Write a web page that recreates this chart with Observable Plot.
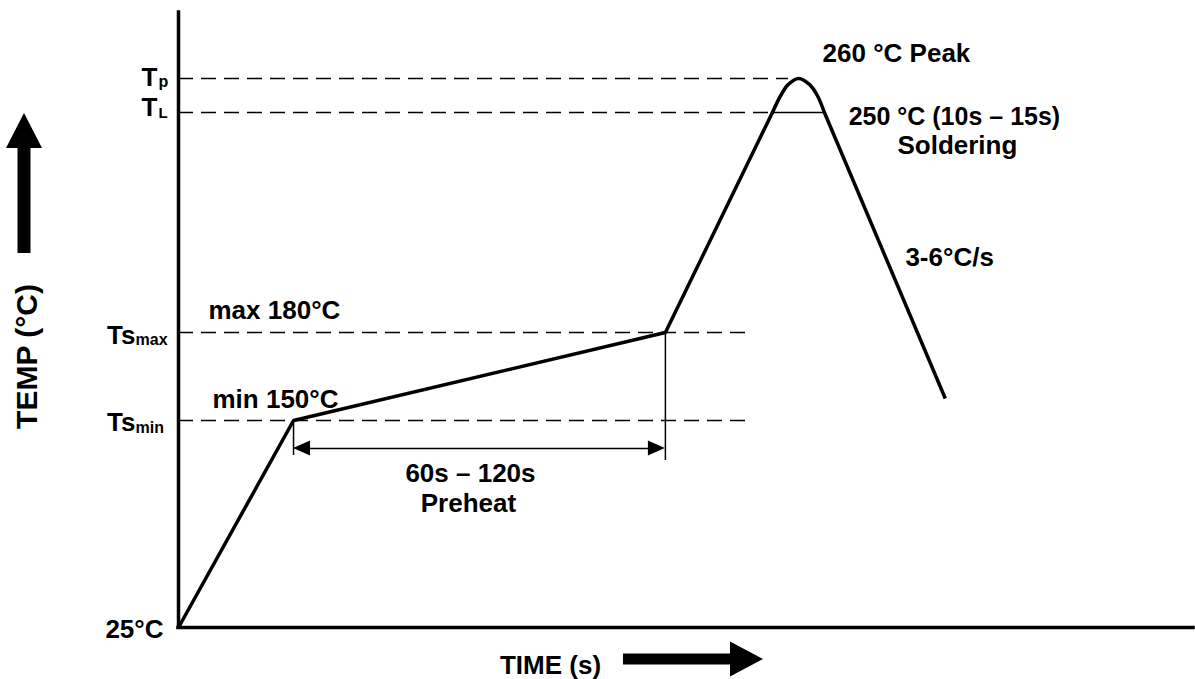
<!DOCTYPE html>
<html>
<head>
<meta charset="utf-8">
<script src="https://cdn.jsdelivr.net/npm/d3@7"></script>
<script src="https://cdn.jsdelivr.net/npm/@observablehq/plot@0.6"></script>
<style>
  html, body { margin: 0; padding: 0; background: #fff; }
  #chart svg { display: block; }
</style>
</head>
<body>
<div id="chart"></div>
<script>
// ---- Data (time in s, temperature in °C) ----
// Straight ramp segments: start -> Ts_min -> Ts_max -> T_L (rising)
const rampTime = [0, 37.4, 158.3, 193.1];
const rampTemp = [25, 150, 180, 250];
// Rounded peak above T_L
const peakTime = [193.1, 195.8, 198.2, 201.6, 205.2, 207.7, 210.0];
const peakTemp = [250, 255.0, 258.2, 260, 258.2, 255.0, 250];
// Cooling segment
const coolTime = [210.0, 249.3];
const coolTemp = [250, 157.5];

// Reference levels (dashed) and where each dashed line ends
const levelTemp = [150, 180, 250, 260];
const levelEndTime = [185, 185, 193.1, 198.3];

// Y tick labels (main text + subscript)
const tickTemp = [260, 250, 180, 150, 25];
const tickMain = ["T", "T", "Ts", "Ts", "25°C"];
const tickSub = ["p", "L", "max", "min", ""];

// Preheat window
const preheatTime = [37.4, 158.3];
const preheatTopTemp = [150, 180];
const preheatTickBottom = [128.9, 125.8];
const preheatArrowTemp = 133.1;

// Soldering window at T_L
const solderTime = [193.1, 210.0];
const solderTemp = 250;

// Annotation texts
const peakLabel = "260 °C Peak";
const solderLabel = ["250 °C (10s – 15s)", "Soldering"];
const coolLabel = "3-6°C/s";
const maxLabel = "max 180°C";
const minLabel = "min 150°C";
const preheatLabel = ["60s – 120s", "Preheat"];
const yTitle = "TEMP (°C)";
const xTitle = "TIME (s)";

// The temperature axis of the figure is schematic (not to scale):
// each key temperature sits at its own height on the drawing.
const keyTemp = [25, 150, 180, 250, 260];
const keyHeight = [0, 207, 295, 515, 549];   // schematic height units
const heightTop = 615;
const xDomain = [0, 330];

// ---- build ----
const warp = d3.scaleLinear().domain(keyTemp).range(keyHeight); // piecewise, extrapolates linearly
const H = (T) => warp(T);
const pts = (xs, ys) => xs.map((t, i) => ({t, T: ys[i]}));
const ramp = pts(rampTime, rampTemp);
const peak = pts(peakTime, peakTemp);
const cool = pts(coolTime, coolTemp);
const levels = levelTemp.map((T, i) => ({T, end: levelEndTime[i]}));
const Yt = (d) => H(d.T);

const FONT = "'Liberation Sans', Arial, Helvetica, sans-serif";
const BIG = 26;
const txt = (data, opts) => Plot.text(data, {fontSize: BIG, fontWeight: "bold", fill: "black", lineAnchor: "bottom", ...opts});

// per-label offsets (style only)
const tickStyle = [
  {mainDx: -21, mainDy: 7, subDx: -20, subDy: 8, subSize: 16},
  {mainDx: -21, mainDy: 3, subDx: -20, subDy: 5, subSize: 15},
  {mainDx: -43, mainDy: 11, subDx: -43, subDy: 12, subSize: 16},
  {mainDx: -43, mainDy: 10, subDx: -43, subDy: 12, subSize: 16},
  {mainDx: -15, mainDy: 10}
];
const tickMarks = tickTemp.flatMap((T, i) => {
  const s = tickStyle[i];
  const m = [txt([{t: 0, T, s: tickMain[i]}], {x: "t", y: Yt, text: "s", textAnchor: "end", dx: s.mainDx, dy: s.mainDy})];
  if (tickSub[i]) m.push(txt([{t: 0, T, s: tickSub[i]}], {x: "t", y: Yt, text: "s", textAnchor: "start", dx: s.subDx, dy: s.subDy, fontSize: s.subSize}));
  return m;
});

// decorative filled arrows (heads of preheat span, axis direction arrows)
function arrows(index, scales, values, dims) {
  const {x, y} = scales;
  const g = d3.create("svg:g").attr("fill", "black").attr("stroke", "none");
  const xa = x(preheatTime[0]), xb = x(preheatTime[1]), ya = y(H(preheatArrowTemp));
  g.append("path").attr("d", `M${xa},${ya}l17,-7.5v15z M${xb},${ya}l-17,-7.5v15z`);
  const left = x(0), bottom = y(H(25));
  // up arrow (temperature direction)
  const ux = left - 154;
  g.append("path").attr("d", `M${ux},113 L${ux + 18},148 L${ux + 6.5},148 L${ux + 6.5},253 L${ux - 6.5},253 L${ux - 6.5},148 L${ux - 18},148 Z`);
  // right arrow (time direction)
  const ry = bottom + 32;
  g.append("path").attr("d", `M763,${ry} L730,${ry - 17.5} L730,${ry - 5.5} L623,${ry - 5.5} L623,${ry + 5.5} L730,${ry + 5.5} L730,${ry + 17.5} Z`);
  return g.node();
}

const mid = (preheatTime[0] + preheatTime[1]) / 2;

const chart = Plot.plot({
  width: 1195,
  height: 679,
  marginLeft: 178,
  marginRight: 2,
  marginTop: 12,
  marginBottom: 52,
  x: {domain: xDomain, axis: null},
  y: {domain: [0, heightTop], axis: null},
  style: {fontFamily: FONT, background: "white", color: "black"},
  marks: [
    // dashed reference levels
    Plot.ruleY(levels, {y: Yt, x1: 0, x2: "end", stroke: "black", strokeWidth: 1.5, strokeDasharray: "15,8"}),
    // preheat span
    Plot.ruleX(preheatTime.map((t, i) => ({t, b: preheatTickBottom[i], T: preheatTopTemp[i]})), {x: "t", y1: (d) => H(d.b), y2: Yt, stroke: "black", strokeWidth: 1.5}),
    Plot.ruleY([preheatArrowTemp], {y: H, x1: preheatTime[0] + 3, x2: preheatTime[1] - 3, stroke: "black", strokeWidth: 1.5}),
    // soldering level
    Plot.ruleY([solderTemp], {y: H, x1: solderTime[0], x2: solderTime[1], stroke: "black", strokeWidth: 1.3}),
    // axes
    Plot.ruleX([0], {y1: 0, y2: heightTop, stroke: "black", strokeWidth: 3.5, strokeLinecap: "square"}),
    Plot.ruleY([0], {x1: 0, x2: xDomain[1], stroke: "black", strokeWidth: 3.5, strokeLinecap: "square"}),
    // profile
    Plot.line(ramp, {x: "t", y: Yt, stroke: "black", strokeWidth: 3.5, strokeLinejoin: "miter", strokeLinecap: "butt"}),
    Plot.line(peak, {x: "t", y: Yt, stroke: "black", strokeWidth: 3.5, curve: "catmull-rom"}),
    Plot.line(cool, {x: "t", y: Yt, stroke: "black", strokeWidth: 3.5, strokeLinecap: "butt"}),
    arrows,
    // tick labels
    ...tickMarks,
    // annotations
    txt([{t: 201.6, T: 260}], {x: "t", y: Yt, text: () => peakLabel, textAnchor: "start", dx: 24, dy: -17}),
    txt([{t: 210, T: 250}], {x: "t", y: Yt, text: () => solderLabel[0], textAnchor: "middle", dx: 130, dy: 12, fontSize: 25}),
    txt([{t: 210, T: 250}], {x: "t", y: Yt, text: () => solderLabel[1], textAnchor: "middle", dx: 133, dy: 41}),
    txt([{t: 210, T: 250}], {x: "t", y: Yt, text: () => coolLabel, textAnchor: "start", dx: 81, dy: 153}),
    txt([{t: 0, T: 180}], {x: "t", y: Yt, text: () => maxLabel, textAnchor: "start", dx: 30, dy: -14}),
    txt([{t: 0, T: 150}], {x: "t", y: Yt, text: () => minLabel, textAnchor: "start", dx: 34, dy: -13}),
    txt([{t: mid, T: preheatArrowTemp}], {x: "t", y: Yt, text: () => preheatLabel[0], textAnchor: "middle", dx: -9, dy: 34}),
    txt([{t: mid, T: preheatArrowTemp}], {x: "t", y: Yt, text: () => preheatLabel[1], textAnchor: "middle", dx: -11, dy: 64}),
    // axis titles
    txt([yTitle], {frameAnchor: "left", text: (d) => d, rotate: -90, textAnchor: "middle", fontSize: 30, dx: -142, dy: 36.5}),
    txt([xTitle], {frameAnchor: "bottom", text: (d) => d, textAnchor: "middle", dx: -135.5, dy: 46})
  ]
});
document.getElementById("chart").appendChild(chart);
</script>
</body>
</html>
